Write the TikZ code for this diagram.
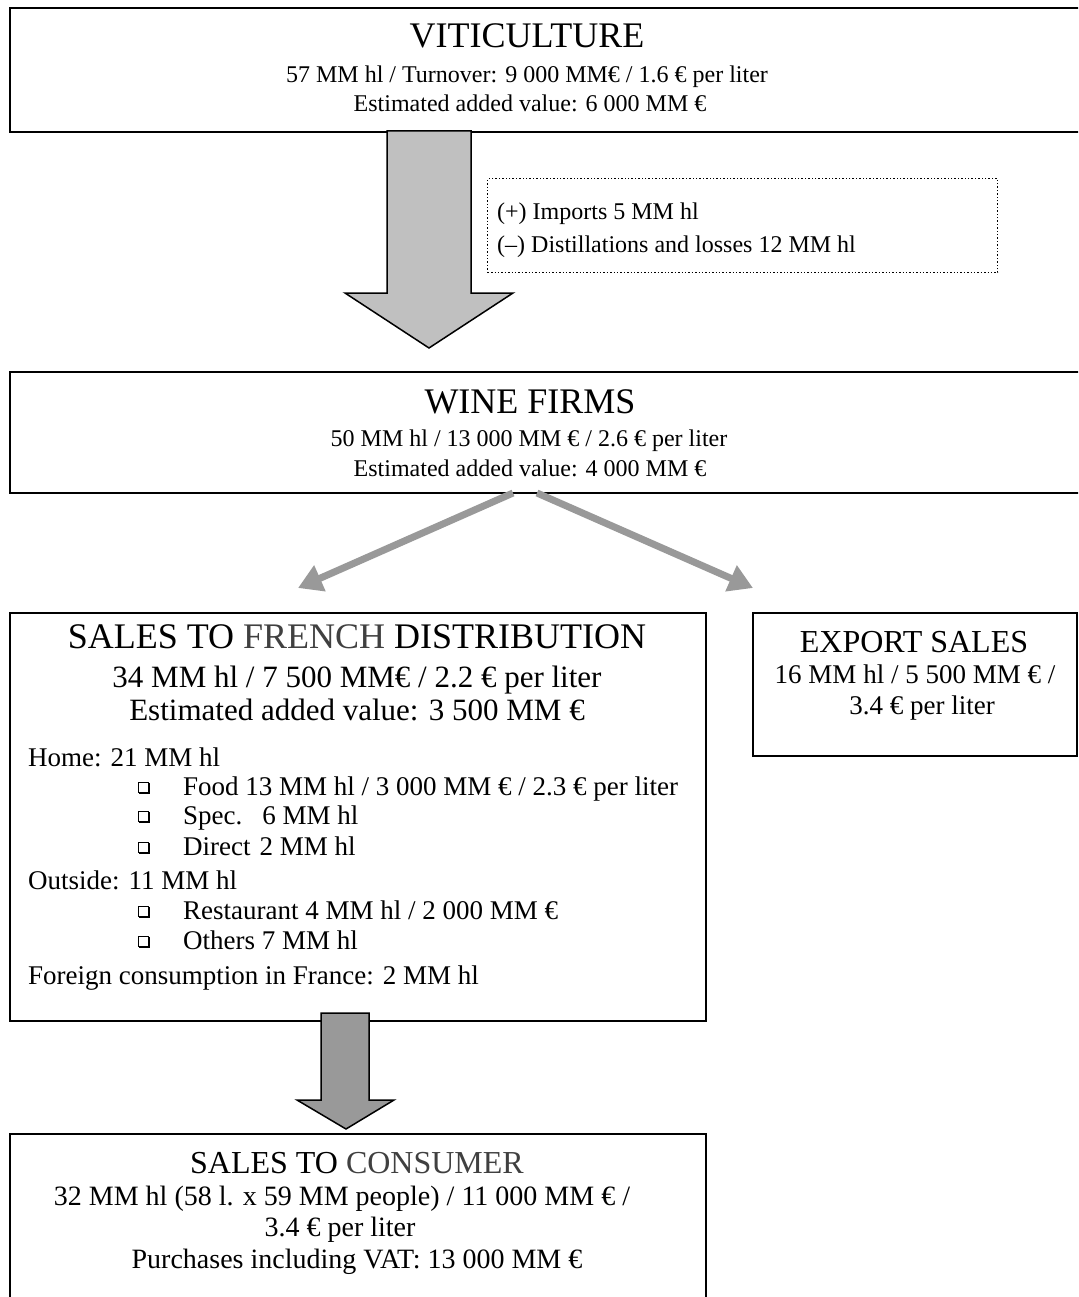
\documentclass[tikz,border=0pt]{standalone}
\usepackage{fontspec}
\setmainfont{Liberation Serif}
\usetikzlibrary{arrows.meta}
\definecolor{lightarr}{HTML}{C0C0C0}
\definecolor{midarr}{HTML}{999999}
\definecolor{softblack}{HTML}{404040}
\begin{document}
\begin{tikzpicture}[x=1pt,y=-1pt,
  box/.style={draw, line width=1.8pt, rectangle, anchor=north west, inner sep=0pt},
  ttl/.style={anchor=base, inner sep=0pt, font=\fontsize{36}{40}\selectfont},
  ttlb/.style={anchor=base, inner sep=0pt, font=\fontsize{32}{36}\selectfont},
  bod/.style={anchor=base, inner sep=0pt, font=\fontsize{24}{28}\selectfont},
  hdr/.style={anchor=base, inner sep=0pt, font=\fontsize{31}{35}\selectfont},
  lst/.style={anchor=base west, inner sep=0pt, font=\fontsize{27}{31}\selectfont},
  exb/.style={anchor=base, inner sep=0pt, font=\fontsize{27}{31}\selectfont},
  csb/.style={anchor=base, inner sep=0pt, font=\fontsize{28}{32}\selectfont},
  bigarrow/.style={draw=black, line width=1.5pt, line join=miter},
  garrow/.style={draw=midarr, line width=7pt, -{Triangle[length=24pt,width=27pt]}},
  chk/.pic={\draw[line width=0.9pt] (-5,-5) rectangle (5,5);
            \draw[line width=1.8pt] (-4.5,5.6) -- (5.6,5.6) -- (5.6,-4.5);}
]
\useasboundingbox (0,0) rectangle (1078,1297);
\clip (0,0) rectangle (1078,1297);
\fill[white] (0,0) rectangle (1078,1297);

% boxes
\node[box, minimum width=1100pt, minimum height=124pt] (vit) at (9,7) {};
\node[box, minimum width=1100pt, minimum height=121pt] (wine) at (9,371) {};
\node[box, minimum width=696pt, minimum height=408pt] (fr) at (9,612) {};
\node[box, minimum width=324pt, minimum height=143pt] (exp) at (752,612) {};
\node[box, minimum width=696pt, minimum height=200pt] (cons) at (9,1133) {};
\node[draw, dotted, line width=1.4pt, rectangle, anchor=north west, inner sep=0pt,
      minimum width=510pt, minimum height=94pt] (note) at (487,178) {};

% top box text
\node[ttl] (vitT) at (527,48) {VITICULTURE};
\node[bod] (vitA) at (527,83) {57 MM hl / Turnover: 9 000 MM€ / 1.6 € per liter};
\node[bod] (vitB) at (530,112) {Estimated added value: 6 000 MM €};

% note text
\node[bod, anchor=base west] (noteA) at (497,220) {(+) Imports 5 MM hl};
\node[bod, anchor=base west] (noteB) at (497,252) {(–) Distillations and losses 12 MM hl};

% big arrow 1
\path[bigarrow, fill=lightarr] (387,131) -- (471,131) -- (471,293) -- (513,293)
  -- (429,348) -- (345,293) -- (387,293) -- cycle;

% wine firms text
\node[ttl] (wineT) at (530,413) {WINE FIRMS};
\node[bod] (wineA) at (529,446) {50 MM hl / 13 000 MM € / 2.6 € per liter};
\node[bod] (wineB) at (530,476) {Estimated added value: 4 000 MM €};

% diagonal arrows
\coordinate (wl) at (513,493);
\coordinate (wr) at (537,493);
\coordinate (fl) at (298,588);
\coordinate (er) at (753,588);
\draw[garrow] (wl) -- (fl);
\draw[garrow] (wr) -- (er);

% French distribution text
\node[ttl] (frT) at (357,648) {SALES TO \textcolor{softblack}{FRENCH} DISTRIBUTION};
\node[hdr] (frA) at (357,687) {34 MM hl / 7 500 MM€ / 2.2 € per liter};
\node[hdr] (frB) at (357,720) {Estimated added value: 3 500 MM €};
\node[lst] (home) at (28,766) {Home: 21 MM hl};
\node[lst] (food) at (183,795) {Food 13 MM hl / 3 000 MM € / 2.3 € per liter};
\node[lst] (spec) at (183,824) {Spec.\hspace{20pt}6 MM hl};
\node[lst] (dir) at (183,855) {Direct\hspace{9pt}2 MM hl};
\node[lst] (out) at (28,889) {Outside: 11 MM hl};
\node[lst] (rest) at (183,919) {Restaurant 4 MM hl / 2 000 MM €};
\node[lst] (oth) at (183,949) {Others 7 MM hl};
\node[lst] (forg) at (28,984) {Foreign consumption in France: 2 MM hl};
\pic at (143,787) {chk};
\pic at (143,816) {chk};
\pic at (143,847) {chk};
\pic at (143,911) {chk};
\pic at (143,941) {chk};

% export text
\node[ttlb] (expT) at (914,652) {EXPORT SALES};
\node[exb] (expA) at (915,683) {16 MM hl / 5 500 MM € /};
\node[exb] (expB) at (922,714) {3.4 € per liter};

% bottom arrow
\path[bigarrow, fill=midarr] (321,1013) -- (369,1013) -- (369,1100) -- (394,1100)
  -- (346,1129) -- (297,1100) -- (321,1100) -- cycle;

% consumer text
\node[ttlb] (consT) at (357,1173) {SALES TO \textcolor{softblack}{CONSUMER}};
\node[csb] (consA) at (342,1205) {32 MM hl (58 l. x 59 MM people) / 11 000 MM € /};
\node[csb] (consB) at (340,1236) {3.4 € per liter};
\node[csb] (consC) at (357,1268) {Purchases including VAT: 13 000 MM €};
\end{tikzpicture}
\end{document}
